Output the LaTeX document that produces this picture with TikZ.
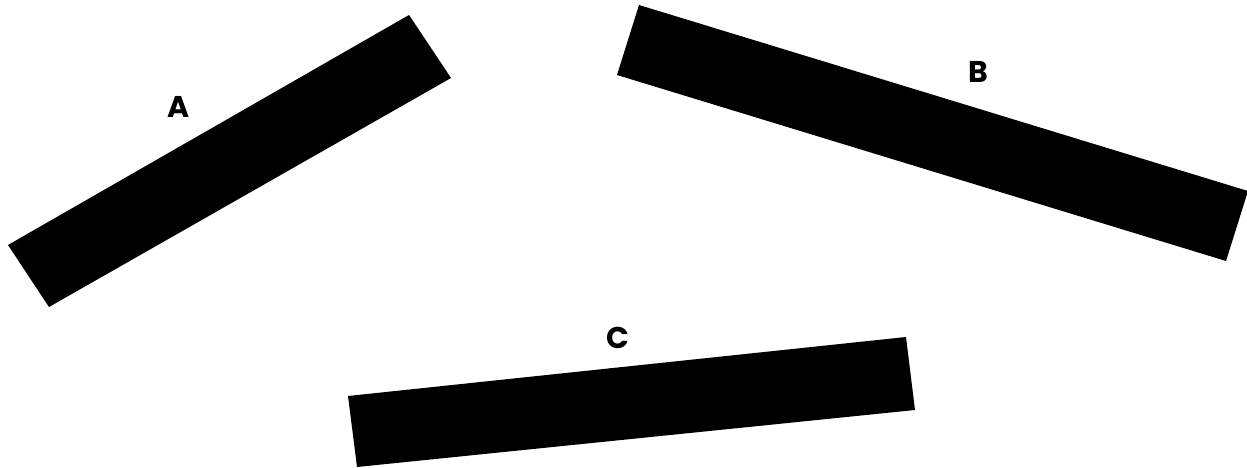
\documentclass[tikz,border=0pt]{standalone}
\usepackage{fontspec}
\setmainfont{Poppins}
\begin{document}
\begin{tikzpicture}[x=1pt,y=-1pt,
  bar/.style={fill=black,draw=none},
  lbl/.style={font=\fontsize{30}{30}\selectfont\bfseries,inner sep=0pt,anchor=center}]
\useasboundingbox (0,0) rectangle (1247,468);
\begin{scope}
\clip (0,0) rectangle (1247,468);
\fill[bar] (8,245) -- (409,15) -- (451,78) -- (49,307) -- cycle;
\fill[bar] (639,5) -- (1248,191) -- (1226,261) -- (617,75) -- cycle;
\fill[bar] (348,396) -- (906,337) -- (915,410) -- (357,467) -- cycle;
\end{scope}
\node[lbl] (la) at (179,107) {A};
\node[lbl] (lb) at (978,72) {B};
\node[lbl] (lc) at (618,338) {C};
\end{tikzpicture}
\end{document}
